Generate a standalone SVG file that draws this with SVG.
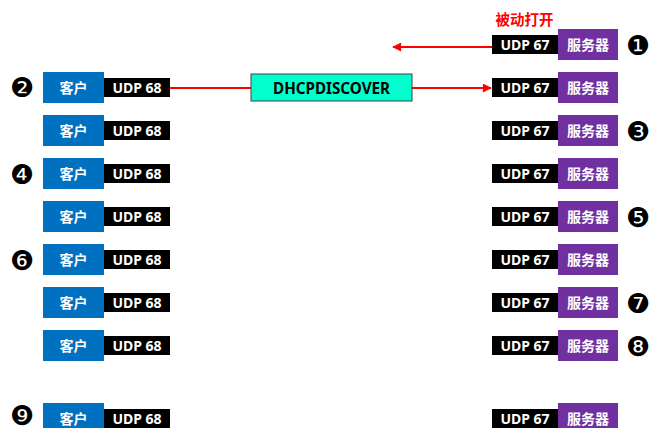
<svg xmlns="http://www.w3.org/2000/svg" width="649" height="428" viewBox="0 0 649 428">
<style>
text{font-family:"Noto Sans","Noto Sans CJK SC",sans-serif;font-weight:bold;font-size:14px;text-anchor:middle;dominant-baseline:central}
.cli{fill:#0070C0}
.srv{fill:#7030A0}
.port{fill:#000}
.w{fill:#fff}
.k{fill:#000}
.big{font-size:15.2px}
.num{font-family:"DejaVu Sans",sans-serif;font-weight:normal;font-size:27px;fill:#000}
.red{fill:#FF0000;font-size:14.5px}
.ln{stroke:#FF0000;stroke-width:2;fill:none}
</style>
<defs>
<marker id="ah" viewBox="0 0 10 10" refX="9" refY="5" markerWidth="5" markerHeight="4.5" orient="auto" markerUnits="strokeWidth">
<path d="M0,0 L10,5 L0,10 z" fill="#FF0000"/>
</marker>
<g id="client">
<rect class="cli" x="43" y="0" width="61" height="31"/>
<rect class="port" x="104" y="6" width="66" height="19"/>
<text class="w" x="73.5" y="15.5">客户</text>
<text class="w" x="137" y="15.5">UDP 68</text>
</g>
<g id="server">
<rect class="port" x="492" y="6" width="66" height="19"/>
<rect class="srv" x="558" y="0" width="60" height="31"/>
<text class="w" x="525" y="15.5">UDP 67</text>
<text class="w" x="588" y="15.5">服务器</text>
</g>
</defs>

<g id="connectors">
<line class="ln" x1="492" y1="47" x2="393" y2="47" marker-end="url(#ah)"/>
<line class="ln" x1="170" y1="88" x2="251" y2="88"/>
<line class="ln" x1="412" y1="88" x2="491" y2="88" marker-end="url(#ah)"/>
</g>

<g id="label-passive"><text class="red" x="524.5" y="19">被动打开</text></g>

<g id="dhcpdiscover">
<rect x="251" y="74" width="161" height="27" fill="#00FFCC" stroke="#404040" stroke-width="1"/>
<text class="k big" x="331.5" y="88">DHCPDISCOVER</text>
</g>

<g id="client-1"><use href="#client" y="72"/></g>
<g id="client-2"><use href="#client" y="115"/></g>
<g id="client-3"><use href="#client" y="158"/></g>
<g id="client-4"><use href="#client" y="201"/></g>
<g id="client-5"><use href="#client" y="244"/></g>
<g id="client-6"><use href="#client" y="287"/></g>
<g id="client-7"><use href="#client" y="330"/></g>
<g id="client-8"><use href="#client" y="403"/></g>

<g id="server-0"><use href="#server" y="29"/></g>
<g id="server-1"><use href="#server" y="72"/></g>
<g id="server-2"><use href="#server" y="115"/></g>
<g id="server-3"><use href="#server" y="158"/></g>
<g id="server-4"><use href="#server" y="201"/></g>
<g id="server-5"><use href="#server" y="244"/></g>
<g id="server-6"><use href="#server" y="287"/></g>
<g id="server-7"><use href="#server" y="330"/></g>
<g id="server-8"><use href="#server" y="403"/></g>

<g id="steps">
<text class="num" x="638" y="45">❶</text>
<text class="num" x="22" y="87">❷</text>
<text class="num" x="638" y="131">❸</text>
<text class="num" x="22" y="174">❹</text>
<text class="num" x="638" y="217">❺</text>
<text class="num" x="22" y="260">❻</text>
<text class="num" x="638" y="303">❼</text>
<text class="num" x="638" y="346">❽</text>
<text class="num" x="22" y="415">❾</text>
</g>
</svg>
